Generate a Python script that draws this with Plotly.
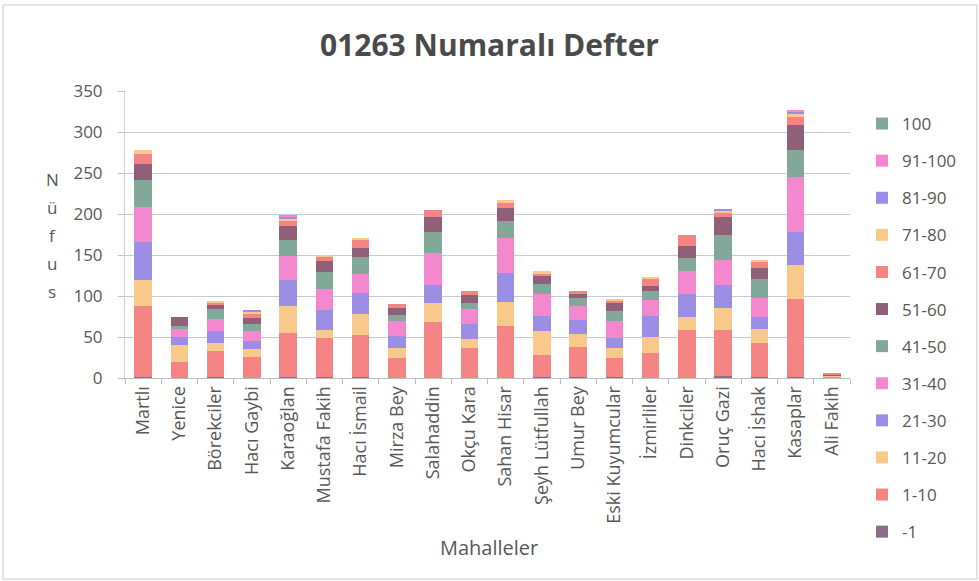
import plotly.graph_objects as go

categories = ["Martlı", "Yenice", "Börekciler", "Hacı Gaybi", "Karaoğlan", "Mustafa Fakih",
              "Hacı İsmail", "Mirza Bey", "Salahaddin", "Okçu Kara", "Sahan Hisar",
              "Şeyh Lütfullah", "Umur Bey", "Eski Kuyumcular", "İzmirliler", "Dinkciler",
              "Oruç Gazi", "Hacı İshak", "Kasaplar", "Ali Fakih"]

s_m1     = [1, 0, 1, 0, 1, 1, 1, 0, 0, 0, 0, 1, 1, 1, 0, 0, 2, 1, 1, 0]
s_1_10   = [87, 19, 32, 26, 54, 48, 51, 25, 68, 37, 63, 27, 37, 24, 30, 59, 56, 42, 95, 2]
s_11_20  = [32, 21, 10, 9, 33, 10, 26, 12, 24, 10, 30, 29, 16, 12, 20, 16, 27, 17, 42, 1]
s_21_30  = [46, 10, 14, 10, 31, 24, 26, 14, 21, 19, 35, 19, 17, 12, 26, 27, 28, 14, 40, 0]
s_31_40  = [42, 10, 15, 12, 30, 25, 23, 19, 40, 18, 43, 26, 17, 20, 19, 29, 31, 23, 67, 0]
s_41_50  = [33, 4, 12, 9, 19, 21, 20, 7, 25, 7, 21, 13, 10, 13, 11, 15, 31, 24, 33, 0]
s_51_60  = [20, 10, 6, 7, 17, 14, 12, 8, 18, 10, 15, 10, 5, 9, 6, 15, 21, 13, 30, 1]
s_61_70  = [12, 0, 2, 5, 6, 4, 9, 5, 9, 5, 6, 3, 3, 3, 9, 14, 5, 8, 10, 1]
s_71_80  = [5, 0, 2, 3, 4, 3, 3, 0, 0, 0, 4, 2, 0, 2, 2, 0, 3, 2, 5, 0]
s_81_90  = [0, 0, 0, 1, 2, 0, 0, 0, 0, 0, 0, 0, 0, 0, 0, 0, 2, 0, 2, 0]
s_91_100 = [0, 0, 0, 0, 1, 0, 0, 0, 0, 0, 0, 0, 0, 0, 0, 0, 0, 0, 1, 0]
s_100    = [0, 0, 0, 0, 0, 0, 0, 0, 0, 0, 0, 0, 0, 0, 0, 0, 0, 0, 0, 0]

series_names = ["-1", "1-10", "11-20", "21-30", "31-40", "41-50", "51-60",
                "61-70", "71-80", "81-90", "91-100", "100"]
series_values = [s_m1, s_1_10, s_11_20, s_21_30, s_31_40, s_41_50, s_51_60,
                 s_61_70, s_71_80, s_81_90, s_91_100, s_100]
colors = ["#8E6E86", "#F58585", "#F8C98A", "#9D8EE5", "#F488CE", "#82A89A",
          "#8F6078", "#F58585", "#F8C98A", "#9D8EE5", "#F488CE", "#82A89A"]

y_title_letters = ["N", "ü", "f", "u", "s"]

font_family = "'Open Sans', Lato, sans-serif"
txt = "#595959"

fig = go.Figure()
for i, (name, vals, col) in enumerate(zip(series_names, series_values, colors)):
    fig.add_trace(go.Bar(
        x=categories, y=vals, name=name, legendgroup=name,
        legendrank=1000 - i,
        marker=dict(color=col, line=dict(width=0)),
    ))

# plot area in pixels: x 125..850, y 91..378
L, R, T, B = 125, 850, 91, 378
W, H = R - L, B - T

def px_x(px):
    return (px - L) / W

def px_y(py):
    return (B - py) / H

annotations = []
for k, ch in enumerate(y_title_letters):
    annotations.append(dict(text=ch, xref="paper", yref="paper",
                            x=px_x(52), y=px_y(179 + 28 * k),
                            xanchor="center", yanchor="middle", showarrow=False,
                            font=dict(size=17, color=txt)))
annotations.append(dict(text="Mahalleler", xref="paper", yref="paper",
                        x=px_x(489), y=px_y(547), xanchor="center", yanchor="middle",
                        showarrow=False, font=dict(size=20, color=txt)))

fig.update_layout(
    barmode="stack",
    bargap=0.52,
    width=979, height=581,
    paper_bgcolor="white", plot_bgcolor="white",
    margin=dict(l=L, r=979 - R, t=T, b=581 - B, autoexpand=False),
    font=dict(family=font_family, color=txt, size=15),
    title=dict(text="<b>01263 Numaralı Defter</b>", x=0.5, xanchor="center",
               y=0.921, yanchor="middle",
               font=dict(size=30, color="#4A4A4A", family=font_family)),
    legend=dict(x=px_x(862), xref="paper", y=1 - 106 / 581, yref="container",
                xanchor="left", yanchor="top", maxheight=470,
                traceorder="grouped", tracegroupgap=12,
                font=dict(size=17, color=txt),
                bgcolor="rgba(0,0,0,0)"),
    xaxis=dict(tickangle=-90, showgrid=False, showline=True, linecolor="#BFBFBF",
               ticks="outside", tickson="boundaries", ticklen=5, tickcolor="#BFBFBF",
               tickfont=dict(size=18, color=txt), automargin=False),
    yaxis=dict(range=[0, 350], dtick=50, showgrid=True, gridcolor="#C8C8D8",
               gridwidth=1, showline=True, linecolor="#D0D0D0",
               ticks="outside", ticklen=6, tickcolor="#BFBFBF",
               ticklabelstandoff=12,
               tickfont=dict(size=17, color=txt), zeroline=False, automargin=False),
    annotations=annotations,
    shapes=[dict(type="rect", xref="paper", yref="paper",
                 x0=px_x(3), x1=px_x(977), y0=px_y(579), y1=px_y(5),
                 line=dict(color="#C8C8C8", width=1))],
)

fig.write_html("out.html", config={"displayModeBar": False},
               post_script="document.body.style.margin='0';document.body.style.overflow='hidden';")
